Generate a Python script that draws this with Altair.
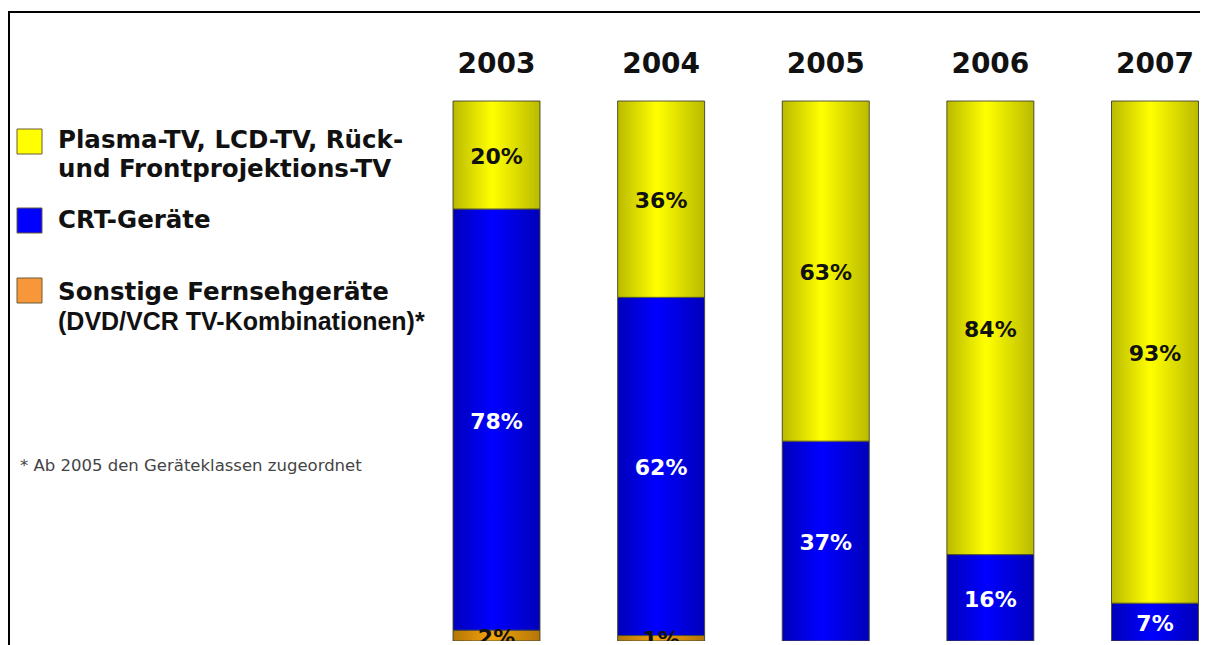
import altair as alt
import pandas as pd

# ---- data ----
years = ["2003", "2004", "2005", "2006", "2007"]
flat_tv = [20, 36, 63, 84, 93]      # Plasma-TV, LCD-TV, Rück- und Frontprojektions-TV
crt_tv = [78, 62, 37, 16, 7]        # CRT-Geräte
other_tv = [2, 1, 0, 0, 0]          # Sonstige Fernsehgeräte

cat_names = ["Sonstige", "CRT", "Flach"]          # stacking order bottom -> top
cat_colors = ["#f5a20a", "#0000ff", "#ffff00"]
legend_colors = ["#ffff00", "#0000ff", "#f7973a"]

legend_line1 = "Plasma-TV, LCD-TV, Rück-"
legend_line2 = "und Frontprojektions-TV"
legend_crt = "CRT-Geräte"
legend_other1 = "Sonstige Fernsehgeräte"
legend_other2 = "(DVD/VCR TV-Kombinationen)*"
footnote = "* Ab 2005 den Geräteklassen zugeordnet"

rows = []
for i, yr in enumerate(years):
    for order, (cat, vals) in enumerate(zip(cat_names, [other_tv, crt_tv, flat_tv])):
        if vals[i] > 0:
            rows.append({"year": yr, "cat": cat, "value": vals[i], "ord": order,
                         "label": f"{vals[i]}%"})
df = pd.DataFrame(rows)
years_df = pd.DataFrame({"year": years})
one = pd.DataFrame({"a": [0]})

W, H = 1192, 633

xscale = alt.Scale(domain=years, range=[406.2, 1229.3], paddingInner=0.4715, paddingOuter=0.2357)
yscale = alt.Scale(domain=[0, 1], range=[633, 93], nice=False)

base = alt.Chart(df).transform_stack(
    stack="value", groupby=["year"], as_=["y0", "y1"],
    sort=[alt.SortField("ord", order="ascending")], offset="normalize"
).transform_calculate(mid="(datum.y0 + datum.y1) / 2")

X = alt.X("year:N", scale=xscale, axis=None)

bars = base.mark_bar(stroke="#5c5c44", strokeWidth=1, clip=True).encode(
    x=X,
    y=alt.Y("y0:Q", scale=yscale, axis=None),
    y2="y1:Q",
    color=alt.Color("cat:N", scale=alt.Scale(domain=cat_names, range=cat_colors), legend=None),
)

grad = alt.LinearGradient(
    gradient="linear", x1=0, y1=0, x2=1, y2=0,
    stops=[
        alt.GradientStop(offset=0, color="rgba(0,0,0,0.27)"),
        alt.GradientStop(offset=0.45, color="rgba(0,0,0,0)"),
        alt.GradientStop(offset=1, color="rgba(0,0,0,0.27)"),
    ],
)
shade = base.mark_bar(fill=grad, strokeWidth=0, clip=True).encode(
    x=X, y=alt.Y("y0:Q", scale=yscale, axis=None), y2="y1:Q"
)

labels = base.mark_text(font="DejaVu Sans", fontWeight="bold", fontSize=22,
                        baseline="middle", dy=2, clip=True).encode(
    x=X,
    y=alt.Y("mid:Q", scale=yscale, axis=None),
    text="label:N",
    color=alt.condition("datum.cat == 'CRT'", alt.value("white"), alt.value("#111111")),
)

year_text = alt.Chart(years_df).mark_text(font="DejaVu Sans", fontWeight="bold", fontSize=28,
                                          baseline="middle", color="#111111").encode(
    x=X, y=alt.value(57), text="year:N"
)

# frame lines
top_rule = alt.Chart(one).mark_rule(color="black", strokeWidth=2).encode(
    x=alt.value(0), x2=alt.value(W), y=alt.value(4))
left_rule = alt.Chart(one).mark_rule(color="black", strokeWidth=2).encode(
    x=alt.value(1), y=alt.value(3), y2=alt.value(640))

# legend
def square(color, y):
    return alt.Chart(one).mark_rect(fill=color, stroke="#6b5a3a", strokeWidth=1).encode(
        x=alt.value(9), x2=alt.value(34), y=alt.value(y), y2=alt.value(y + 25))

def txt(t, y, x=50, font="DejaVu Sans", weight="bold", size=24.5, color="#111111"):
    return alt.Chart(one).mark_text(text=t, font=font, fontWeight=weight, fontSize=size,
                                    align="left", baseline="middle", color=color).encode(
        x=alt.value(x), y=alt.value(y))

legend = [
    square(legend_colors[0], 121), square(legend_colors[1], 200), square(legend_colors[2], 270),
    txt(legend_line1, 133), txt(legend_line2, 162), txt(legend_crt, 213),
    txt(legend_other1, 285),
    txt(legend_other2, 314, font="Liberation Sans", size=25),
    txt(footnote, 458, x=12, weight="normal", size=16.5, color="#444444"),
]

chart = alt.layer(bars, shade, labels, year_text, top_rule, left_rule, *legend).properties(
    width=W, height=H,
    autosize=alt.AutoSizeParams(type="none"),
    padding={"left": 0, "top": 0, "right": 0, "bottom": 4},
    background="white",
).configure_view(stroke=None)

chart.save("out.html", embed_options={"renderer": "svg", "actions": False})
